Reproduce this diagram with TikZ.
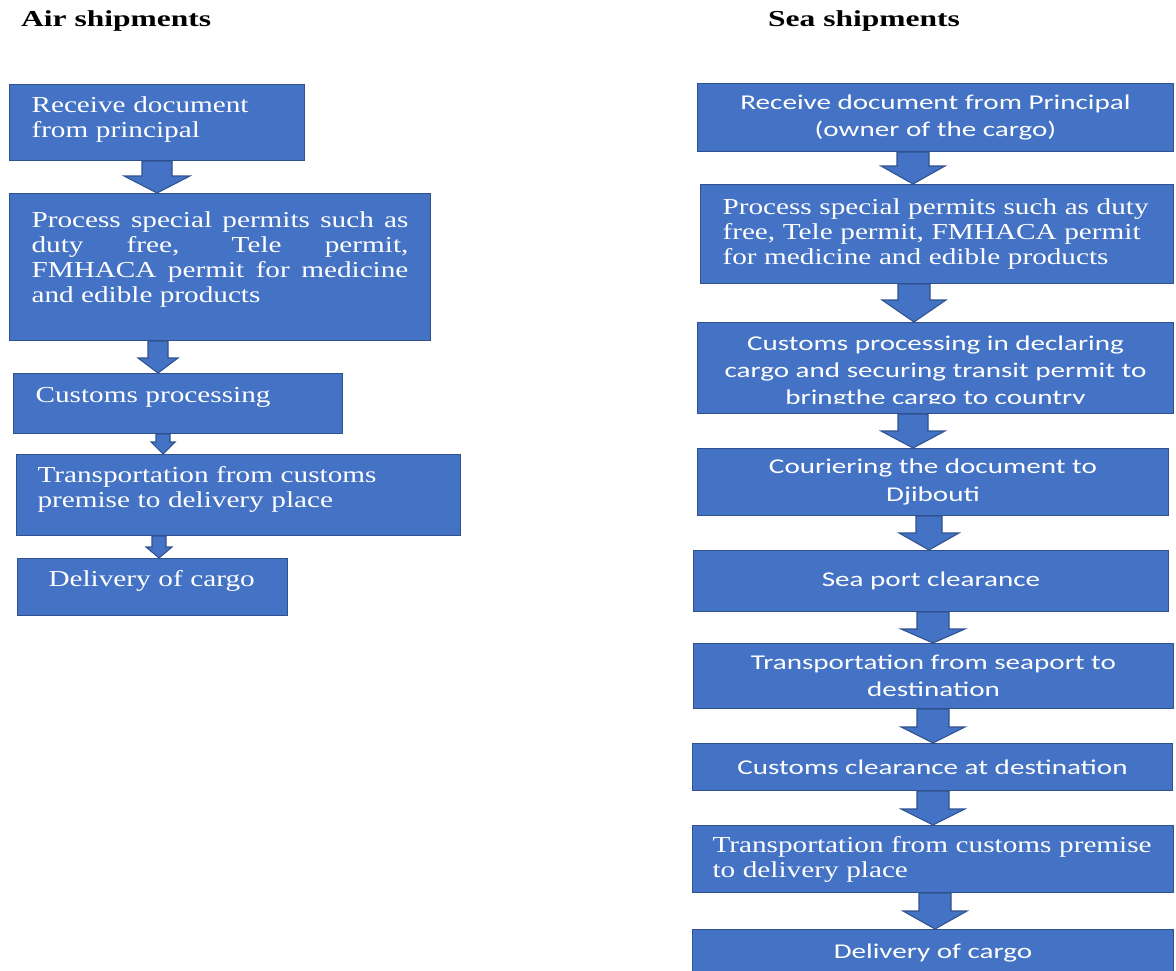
\documentclass[tikz,border=0pt]{standalone}
\usepackage{fontspec}
\usetikzlibrary{calc}
\newfontfamily\airfont[FakeStretch=1.28]{Liberation Serif}
\newfontfamily\titlefont[FakeStretch=1.38]{Liberation Serif}
\newfontfamily\seafont[FakeStretch=1.38]{Carlito}
\definecolor{boxblue}{HTML}{4472C4}
\definecolor{edgeblue}{HTML}{2F528F}

\begin{document}
\begin{tikzpicture}[x=0.02cm, y=-0.02cm,
        heading/.style={anchor=base west, font=\titlefont\bfseries\fontsize{13}{15}\selectfont},
        airbox/.style={draw=edgeblue, fill=boxblue, text=white, line width=0.6pt, anchor=north west,
            inner ysep=0pt, align=left, font=\airfont\fontsize{13}{14.3}\selectfont},
        seabox/.style={draw=edgeblue, fill=boxblue, text=white, line width=0.6pt, anchor=north west,
            inner sep=0pt, align=center, font=\seafont\fontsize{12}{15.6}\selectfont},
        seaserif/.style={seabox, align=left, font=\airfont\fontsize{13}{14.3}\selectfont},
        blockarrow/.style={draw=edgeblue, fill=boxblue, line width=0.6pt}]
        % ==== FRAME ====
        \clip (0,0) rectangle (1176,970);
        \fill[white] (0,0) rectangle (1176,970);

        % ==== TITLES ====
        \node[heading] (airtitle) at (15,27) {Air shipments};
        \node[heading] (seatitle) at (762,27) {Sea shipments};

        % ==== AIR SHIPMENTS ====
        \node[airbox, inner xsep=0.44cm, text width=5.02cm, text height=0.56cm, text depth=0.96cm] (a1) at (9,84)
            {Receive document\\from principal};
        \node[airbox, inner xsep=0.44cm, text width=7.54cm, text height=0.68cm, text depth=2.26cm, align=justify,
            execute at begin node={\hyphenpenalty=10000\tolerance=9999}] (a2) at (9,193)
            {Process special permits such as\linebreak duty free, Tele permit,\linebreak
             FMHACA permit for medicine\linebreak and edible products};
        \node[airbox, inner xsep=0.44cm, text width=5.7cm, text height=0.58cm, text depth=0.62cm] (a3) at (13,373)
            {Customs processing};
        \node[airbox, inner xsep=0.42cm, text width=8.04cm, text height=0.56cm, text depth=1.06cm] (a4) at (16,454)
            {Transportation from customs\\premise to delivery place};
        \node[airbox, inner xsep=0.62cm, text width=4.16cm, text height=0.56cm, text depth=0.58cm] (a5) at (17,558)
            {Delivery of cargo};

        % ==== SEA SHIPMENTS ====
        \node[seabox, minimum width=9.52cm, minimum height=1.36cm] (s1) at (697,83)
            {Receive document from Principal\\(owner of the cargo)};
        \node[seaserif, inner xsep=0.44cm, text width=8.58cm, minimum height=1.98cm] (s2) at (700,184)
            {Process special permits such as duty\\free, Tele permit, FMHACA permit\\for medicine and edible products};
        \node[seabox, minimum width=9.52cm, minimum height=1.82cm] (s3) at (697,322) {};
        \begin{scope}
            \clip (s3.north west) rectangle ($(s3.south east)+(0,-11)$);
            \node[seabox, draw=none, fill=none, anchor=north] (s3text) at ($(s3.north)+(0,13)$)
                {Customs processing in declaring\\cargo and securing transit permit to\\bringthe cargo to country};
        \end{scope}
        \node[seabox, minimum width=9.42cm, minimum height=1.34cm] (s4) at (697,448)
            {Couriering the document to\\Djibouti};
        \node[seabox, minimum width=9.5cm, minimum height=1.22cm] (s5) at (693,550) {Sea port clearance};
        \node[seabox, minimum width=9.6cm, minimum height=1.3cm] (s6) at (693,643)
            {Transportation from seaport to\\destination};
        \node[seabox, minimum width=9.6cm, minimum height=0.94cm] (s7) at (692,743) {Customs clearance at destination};
        \node[seaserif, inner xsep=0.4cm, text width=8.82cm, minimum height=1.34cm] (s8) at (692,825)
            {Transportation from customs premise\\to delivery place};
        \node[seabox, minimum width=9.62cm, minimum height=0.92cm] (s9) at (692,929) {Delivery of cargo};

        % ==== BLOCK ARROWS ====
        \foreach \src/\dst/\ax/\sw/\hw/\hl in {a1/a2/157/15/33/17, a2/a3/158/10/20/15, a3/a4/163/7/12/12,
                a4/a5/159/7/13/11, s1/s2/913/16/32/18, s2/s3/914/16/32/22, s3/s4/913/15/32/17,
                s4/s5/929/13/30/17, s5/s6/933/16/32/14, s6/s7/933/16/32/16, s7/s8/933/16/32/16,
                s8/s9/935/16/32/18} {
            \coordinate (xline) at (\ax,0);
            \coordinate (top) at (\src.south -| xline);
            \coordinate (tip) at (\dst.north -| xline);
            \filldraw[blockarrow] ($(top)+(-\sw,0)$) -- ($(tip)+(-\sw,-\hl)$) -- ($(tip)+(-\hw,-\hl)$) -- (tip)
                -- ($(tip)+(\hw,-\hl)$) -- ($(tip)+(\sw,-\hl)$) -- ($(top)+(\sw,0)$) -- cycle;
        }
     \end{tikzpicture}
\end{document}
